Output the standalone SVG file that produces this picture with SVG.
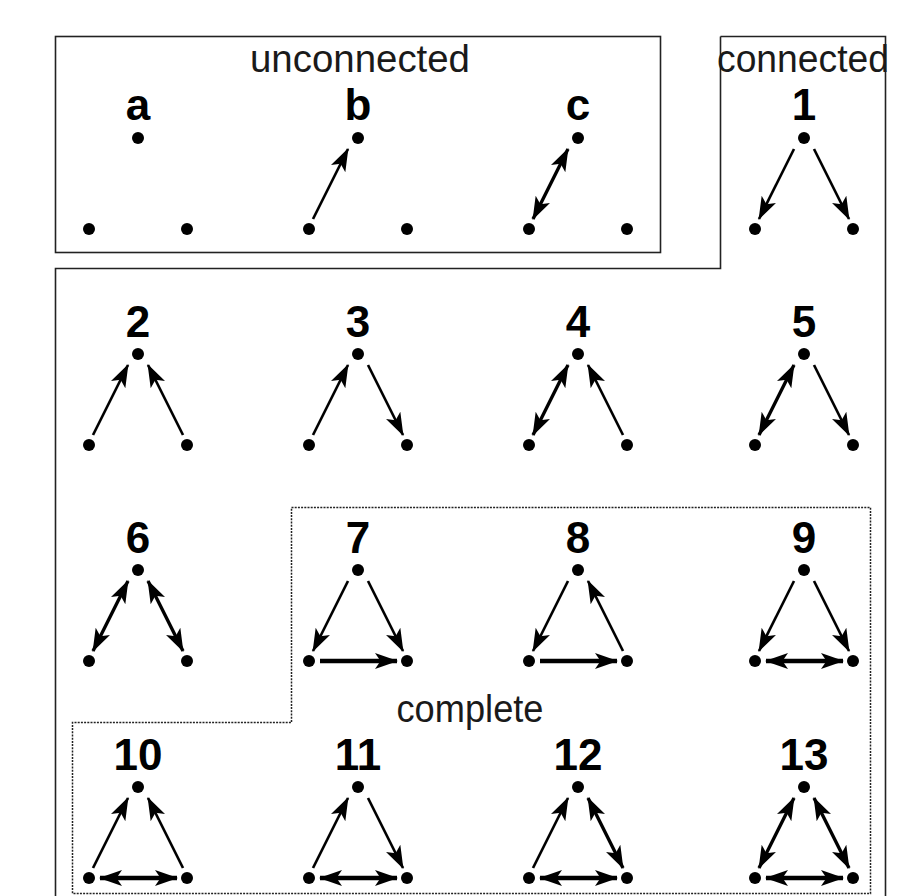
<svg xmlns="http://www.w3.org/2000/svg" width="922" height="896" viewBox="0 0 922 896">
<style>
.frame{fill:none;stroke:#222;stroke-width:1.6}
.dot-frame{fill:none;stroke:#222;stroke-width:1.5;stroke-dasharray:2 1.2}
.title{font-family:"Liberation Sans",Arial,sans-serif;font-size:38px;fill:#1a1a1a;text-anchor:middle}
.lab{font-family:"Liberation Sans",Arial,sans-serif;font-size:44px;font-weight:bold;fill:#000;text-anchor:middle}
.n{fill:#000}
.e{fill:none;stroke:#000;stroke-width:2.6}
.d{fill:none;stroke:#000;stroke-width:3.4}
.h{fill:none;stroke:#000;stroke-width:4.5}
.end{marker-end:url(#ah)}
.both{marker-start:url(#ah);marker-end:url(#ah)}
</style>
<defs>
<marker id="ah" markerUnits="userSpaceOnUse" markerWidth="24" markerHeight="18" viewBox="0 0 24 18" refX="22" refY="9" orient="auto-start-reverse">
<path d="M23,9 L0,1 L5.5,9 L0,17 Z" fill="#000"/>
</marker>
<g id="tri">
<circle class="n" cx="0" cy="0" r="6"/>
<circle class="n" cx="-49" cy="91" r="6"/>
<circle class="n" cx="49" cy="91" r="6"/>
</g>
</defs>

<g id="frames">
<rect class="frame" x="55.5" y="36.5" width="605" height="216"/>
<path class="frame" d="M720.5,36.5 H885.5 V896 M720.5,36.5 V268.5 H55.5 V896"/>
<path class="dot-frame" d="M291.5,507.5 H870.5 V893.5 H72.5 V722.5 H291.5 Z"/>
<text class="title" x="360" y="72" textLength="220" lengthAdjust="spacingAndGlyphs">unconnected</text>
<text class="title" x="803" y="72" textLength="172" lengthAdjust="spacingAndGlyphs">connected</text>
<text class="title" x="470" y="722" textLength="147" lengthAdjust="spacingAndGlyphs">complete</text>
</g>

<g id="node-a" transform="translate(138,138)"><text class="lab" x="0" y="-18">a</text><use href="#tri"/></g>
<g id="node-b" transform="translate(358,138)"><text class="lab" x="0" y="-18">b</text><use href="#tri"/></g>
<g id="node-c" transform="translate(578,138)"><text class="lab" x="0" y="-18">c</text><use href="#tri"/></g>
<g id="node-1" transform="translate(804,138)"><text class="lab" x="0" y="-18">1</text><use href="#tri"/></g>
<g id="node-2" transform="translate(138,354)"><text class="lab" x="0" y="-17">2</text><use href="#tri"/></g>
<g id="node-3" transform="translate(358,354)"><text class="lab" x="0" y="-17">3</text><use href="#tri"/></g>
<g id="node-4" transform="translate(578,354)"><text class="lab" x="0" y="-17">4</text><use href="#tri"/></g>
<g id="node-5" transform="translate(804,354)"><text class="lab" x="0" y="-17">5</text><use href="#tri"/></g>
<g id="node-6" transform="translate(138,570)"><text class="lab" x="0" y="-17">6</text><use href="#tri"/></g>
<g id="node-7" transform="translate(358,570)"><text class="lab" x="0" y="-17">7</text><use href="#tri"/></g>
<g id="node-8" transform="translate(578,570)"><text class="lab" x="0" y="-17">8</text><use href="#tri"/></g>
<g id="node-9" transform="translate(804,570)"><text class="lab" x="0" y="-17">9</text><use href="#tri"/></g>
<g id="node-10" transform="translate(138,787)"><text class="lab" x="0" y="-17">10</text><use href="#tri"/></g>
<g id="node-11" transform="translate(358,787)"><text class="lab" x="0" y="-17">11</text><use href="#tri"/></g>
<g id="node-12" transform="translate(578,787)"><text class="lab" x="0" y="-17">12</text><use href="#tri"/></g>
<g id="node-13" transform="translate(804,787)"><text class="lab" x="0" y="-17">13</text><use href="#tri"/></g>

<g id="connectors">
<g transform="translate(358,138)"><path class="e end" d="M-45,81 L-10,11"/></g>
<g transform="translate(578,138)"><path class="d both" d="M-45,81 L-10,11"/></g>
<g transform="translate(804,138)"><path class="e end" d="M-10,11 L-45,81"/><path class="e end" d="M10,11 L45,81"/></g>
<g transform="translate(138,354)"><path class="e end" d="M-45,81 L-10,11"/><path class="e end" d="M45,81 L10,11"/></g>
<g transform="translate(358,354)"><path class="e end" d="M-45,81 L-10,11"/><path class="e end" d="M10,11 L45,81"/></g>
<g transform="translate(578,354)"><path class="d both" d="M-45,81 L-10,11"/><path class="e end" d="M45,81 L10,11"/></g>
<g transform="translate(804,354)"><path class="d both" d="M-45,81 L-10,11"/><path class="e end" d="M10,11 L45,81"/></g>
<g transform="translate(138,570)"><path class="d both" d="M-45,81 L-10,11"/><path class="d both" d="M45,81 L10,11"/></g>
<g transform="translate(358,570)"><path class="e end" d="M-10,11 L-45,81"/><path class="e end" d="M10,11 L45,81"/><path class="h end" d="M-38,91 L39,91"/></g>
<g transform="translate(578,570)"><path class="e end" d="M-10,11 L-45,81"/><path class="e end" d="M45,81 L10,11"/><path class="h end" d="M-38,91 L39,91"/></g>
<g transform="translate(804,570)"><path class="e end" d="M-10,11 L-45,81"/><path class="e end" d="M10,11 L45,81"/><path class="h both" d="M-38,91 L39,91"/></g>
<g transform="translate(138,787)"><path class="e end" d="M-45,81 L-10,11"/><path class="e end" d="M45,81 L10,11"/><path class="h both" d="M-38,91 L39,91"/></g>
<g transform="translate(358,787)"><path class="e end" d="M-45,81 L-10,11"/><path class="e end" d="M10,11 L45,81"/><path class="h both" d="M-38,91 L39,91"/></g>
<g transform="translate(578,787)"><path class="e end" d="M-45,81 L-10,11"/><path class="d both" d="M45,81 L10,11"/><path class="h both" d="M-38,91 L39,91"/></g>
<g transform="translate(804,787)"><path class="d both" d="M-45,81 L-10,11"/><path class="d both" d="M45,81 L10,11"/><path class="h both" d="M-38,91 L39,91"/></g>
</g>
</svg>
